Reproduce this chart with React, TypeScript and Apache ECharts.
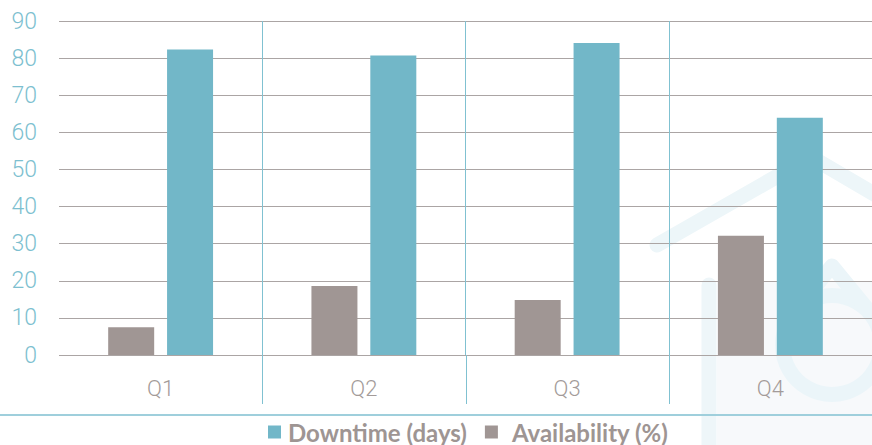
import React, { useEffect, useRef } from "react";
import * as echarts from "echarts";

const categories = ["Q1", "Q2", "Q3", "Q4"];
const downtimeDays = [82.3, 80.7, 84.1, 63.9];
const availabilityPct = [7.5, 18.6, 14.8, 32.1];
const seriesNames = ["Downtime (days)", "Availability (%)"];

const BLUE = "#72b7c8";
const GRAY = "#a09694";

export default function App() {
  const ref = useRef<HTMLDivElement>(null);
  useEffect(() => {
    if (!ref.current) return;
    const chart = echarts.init(ref.current, null, { renderer: "svg" });
    const option: any = {
      animation: false,
      backgroundColor: "#ffffff",
      grid: { left: 59, right: -6, top: 21, bottom: 90, containLabel: false },
      legend: {
        data: [
          { name: seriesNames[0], itemStyle: { color: BLUE } },
          { name: seriesNames[1], itemStyle: { color: GRAY }, textStyle: { padding: [0, 0, 0, 9] } },
        ],
        left: 268,
        top: 420,
        padding: 0,
        itemWidth: 13,
        itemHeight: 13,
        itemGap: 18,
        icon: "rect",
        textStyle: {
          fontFamily: "Lato",
          fontWeight: "bold",
          fontSize: 24,
          lineHeight: 24,
          color: "#9e9593",
          padding: [0, 0, 0, 2],
        },
      },
      xAxis: {
        type: "category",
        data: categories,
        axisLine: { show: false },
        axisTick: { show: false },
        splitLine: {
          show: true,
          interval: 0,
          showMinLine: false,
          lineStyle: { color: "#80c1d1", width: 1 },
        },
        axisLabel: {
          fontFamily: "Roboto",
          fontWeight: 300,
          fontSize: 22,
          color: "#a39b99",
          margin: 22,
        },
      },
      yAxis: {
        type: "value",
        min: 0,
        max: 90,
        interval: 10,
        axisLine: { show: false },
        axisTick: { show: false },
        splitLine: { lineStyle: { color: "#aba5a4", width: 1.2 } },
        axisLabel: {
          fontFamily: "Roboto",
          fontWeight: 300,
          fontSize: 23,
          color: "#7dbfd0",
          margin: 22,
        },
      },
      series: [
        {
          name: seriesNames[1],
          type: "bar",
          data: availabilityPct,
          barWidth: 46,
          barGap: "28%",
          itemStyle: { color: GRAY },
          z: 3,
        },
        {
          name: seriesNames[0],
          type: "bar",
          data: downtimeDays,
          barWidth: 46,
          itemStyle: { color: BLUE },
          z: 3,
        },
      ],
    };
    chart.setOption(option);

    const centers = categories.map((c) => chart.convertToPixel({ xAxisIndex: 0 }, c) as number);
    const zeroY = chart.convertToPixel({ yAxisIndex: 0 }, 0) as number;
    const seps: any[] = [];
    for (let i = 0; i < centers.length - 1; i++) {
      const x = Math.round((centers[i] + centers[i + 1]) / 2) + 0.5;
      seps.push({
        type: "line",
        shape: { x1: x, y1: zeroY, x2: x, y2: zeroY + 49 },
        style: { stroke: "#80c1d1", lineWidth: 1 },
        z: 1,
      });
    }
    const wm = "#ebf5f9";
    const graphic = [
      {
        type: "rect",
        shape: { x: 717, y: 282, width: 170, height: 180 },
        style: { fill: "#f7f9fb" },
        z: -10,
        silent: true,
      },
      {
        type: "polyline",
        shape: { points: [[657, 245], [811, 157], [905, 212]] },
        style: { stroke: "#edf6f9", lineWidth: 15, lineCap: "round", lineJoin: "round", fill: null },
        z: -9,
        silent: true,
      },
      {
        type: "line",
        shape: { x1: 709, y1: 285, x2: 709, y2: 470 },
        style: { stroke: "#eef6f9", lineWidth: 15, lineCap: "round" },
        z: -9,
        silent: true,
      },
      {
        type: "ring",
        shape: { cx: 832, cy: 345, r: 57, r0: 42 },
        style: { fill: wm },
        z: -9,
        silent: true,
      },
      {
        type: "polyline",
        shape: { points: [[791, 316], [832, 266], [873, 316]] },
        style: { stroke: wm, lineWidth: 15, lineJoin: "round", fill: null },
        z: -9,
        silent: true,
      },
      {
        type: "line",
        shape: { x1: 0, y1: 415, x2: 872, y2: 415 },
        style: { stroke: "#9fcfdc", lineWidth: 2 },
        z: 1,
      },
      ...seps,
    ];
    chart.setOption({ graphic });
    return () => chart.dispose();
  }, []);
  return <div ref={ref} style={{ width: 872, height: 445, position: "absolute", left: 0, top: 0 }} />;
}
